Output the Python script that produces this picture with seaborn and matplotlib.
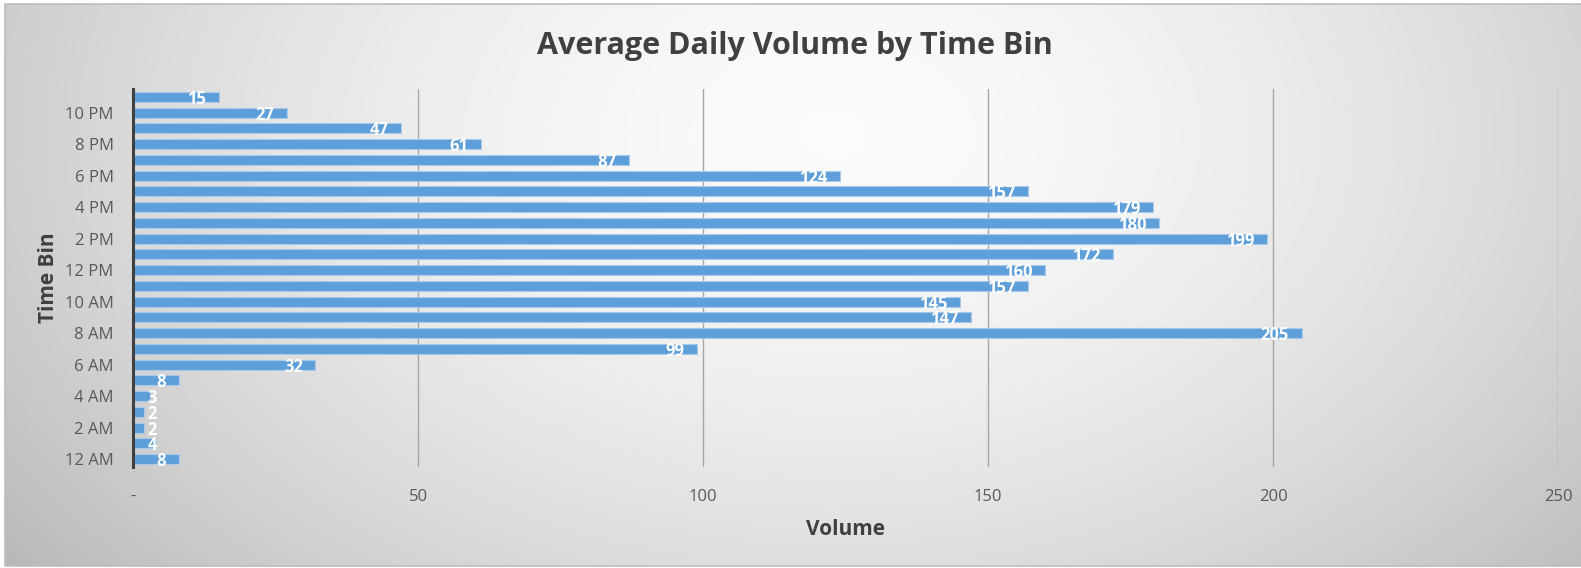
import numpy as np
import pandas as pd
import matplotlib
matplotlib.use("Agg")
import matplotlib.pyplot as plt
import seaborn as sns
from matplotlib.patches import Rectangle

hours = ["12 AM", "1 AM", "2 AM", "3 AM", "4 AM", "5 AM", "6 AM", "7 AM",
         "8 AM", "9 AM", "10 AM", "11 AM", "12 PM", "1 PM", "2 PM", "3 PM",
         "4 PM", "5 PM", "6 PM", "7 PM", "8 PM", "9 PM", "10 PM", "11 PM"]
volume = [8, 4, 2, 2, 3, 8, 32, 99, 205, 147, 145, 157, 160, 172, 199, 180,
          179, 157, 124, 87, 61, 47, 27, 15]
x_ticks = [0, 50, 100, 150, 200, 250]
x_tick_labels = ["-", "50", "100", "150", "200", "250"]

df = pd.DataFrame({"hour": hours, "volume": volume})

sns.set_style("white")
plt.rcParams["font.family"] = ["Open Sans", "DejaVu Sans"]

W, H = 1581, 568
fig = plt.figure(figsize=(W / 100, H / 100), dpi=100)
fig.patch.set_facecolor("white")

# radial grey gradient behind the chart
bg = fig.add_axes([5 / W, 2 / H, 1 - 5 / W, 1 - 6 / H], zorder=0)
yy, xx = np.mgrid[0:H, 0:W]
r = np.sqrt(((xx - 830) / 950) ** 2 + ((yy - 130) / 640) ** 2)
shade = 0.985 - 0.22 * np.clip(r, 0, 1.2) ** 1.7
bg.imshow(np.dstack([shade] * 3), aspect="auto", extent=[0, 1, 0, 1],
          interpolation="bilinear")
bg.axis("off")
fig.add_artist(Rectangle((5 / W, 2 / H), 1, 1 - 6 / H, transform=fig.transFigure,
                         fill=False, edgecolor="#bdbdbd", linewidth=1.2, zorder=1))

ax = fig.add_axes([133 / W, 1 - 467 / H, (1558 - 133) / W, (467 - 89) / H], zorder=2)
ax.patch.set_alpha(0)

order = hours[::-1]
sns.barplot(data=df, x="volume", y="hour", order=order, orient="h",
            color="#5f9fd9", saturation=1, width=0.65, ax=ax,
            edgecolor="#a8c9ea", linewidth=0.8, zorder=3)

ax.set_xlim(0, 250)
ax.set_ylim(len(order) - 0.5, -0.5)
ax.set_xticks(x_ticks)
ax.set_xticklabels(x_tick_labels, fontsize=12, color="#595959")
ax.set_yticks(range(len(order)))
ax.set_yticklabels([h if (len(order) - 1 - i) % 2 == 0 else "" for i, h in enumerate(order)],
                   fontsize=12, color="#595959")
ax.tick_params(axis="y", length=0, pad=14)
ax.tick_params(axis="x", length=4, color="#a6a6a6", width=1, pad=12)

for x in x_ticks[1:]:
    ax.axvline(x, color="#a6a6a6", linewidth=1, zorder=1)

for s in ["top", "right", "bottom"]:
    ax.spines[s].set_visible(False)
ax.spines["left"].set_color("#404040")
ax.spines["left"].set_linewidth(2.2)
ax.spines["left"].set_zorder(4)

# data labels, inside end like the spreadsheet
for i, h in enumerate(order):
    v = volume[hours.index(h)]
    if v >= 6:
        ax.text(v - 2.2, i + 0.12, str(v), ha="right", va="center", color="white",
                fontsize=12, fontweight="bold", zorder=5)
    else:
        ax.text(2.6, i + 0.12, str(v), ha="left", va="center", color="white",
                fontsize=12, fontweight="bold", zorder=5)

ax.set_xlabel("Volume", fontsize=15, fontweight="bold", color="#404040", labelpad=10)
ax.set_ylabel("Time Bin", fontsize=15, fontweight="bold", color="#404040", labelpad=4)

fig.text(0.503, 1 - 46 / H, "Average Daily Volume by Time Bin", ha="center", va="center",
         fontsize=22, fontweight="bold", color="#404040")

fig.savefig("out.png", dpi=100)
